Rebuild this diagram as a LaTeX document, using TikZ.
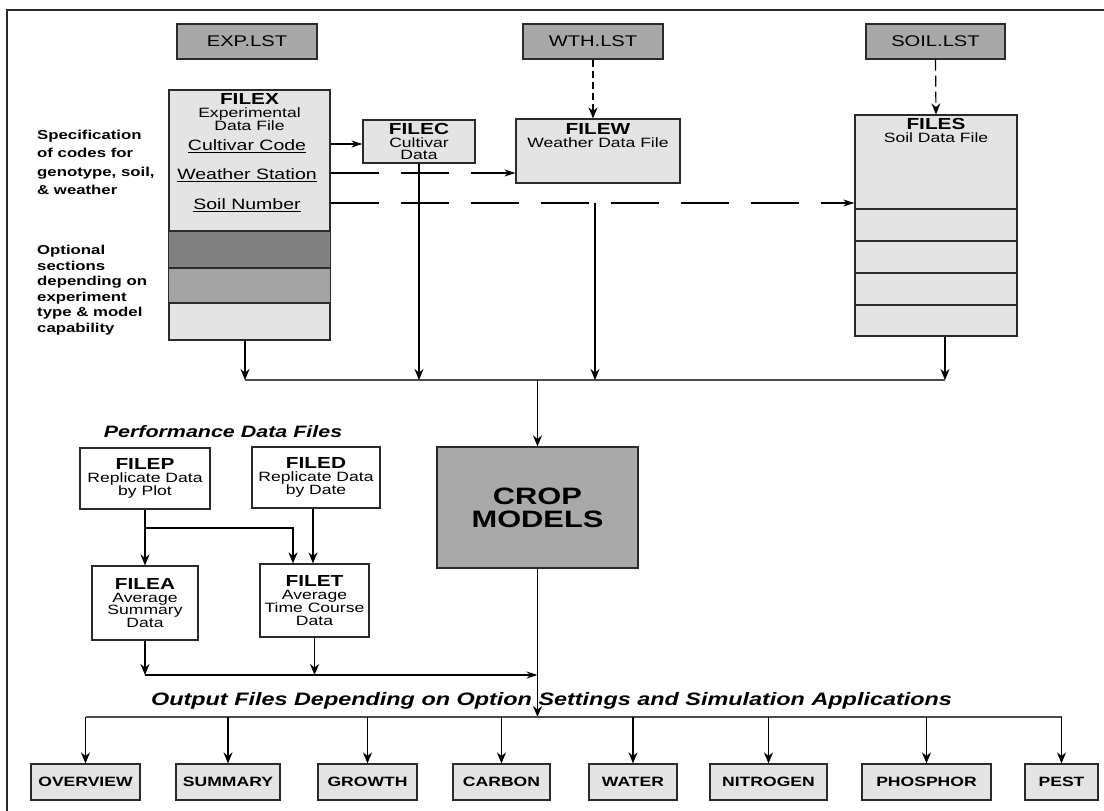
\documentclass[tikz,border=0pt]{standalone}
\usepackage{fontspec}
\setmainfont{Liberation Sans}[FakeStretch=1.3]
\usetikzlibrary{arrows.meta,positioning}

\definecolor{lstgray}{HTML}{A8A8A8}
\definecolor{filegray}{HTML}{E4E4E4}
\definecolor{darkband}{HTML}{808080}
\definecolor{midband}{HTML}{A3A3A3}
\definecolor{cropgray}{HTML}{A9A9A9}
\definecolor{edgegray}{HTML}{2A2A2A}
\definecolor{busgray}{HTML}{4A4A4A}

\newcommand{\filetitle}[1]{{\fontsize{16}{12.5}\selectfont\bfseries #1}}

\tikzset{
  filebox/.style={draw=edgegray,line width=1.2pt,fill=filegray,inner sep=0pt,align=center},
  lstbox/.style={filebox,fill=lstgray,minimum width=140pt,minimum height=35pt,font=\fontsize{15.5}{18}\selectfont},
  perfbox/.style={filebox,fill=white,font=\fontsize{13.5}{12.5}\selectfont},
  outbox/.style={filebox,minimum height=36pt,font=\bfseries\fontsize{13.5}{15}\selectfont},
  subtext/.style={anchor=north,align=center,font=\fontsize{13.5}{12.5}\selectfont},
  itemtext/.style={inner sep=0pt,font=\fontsize{15}{17}\selectfont},
  sidetext/.style={align=left,inner sep=0pt,anchor=north west,font=\bfseries\fontsize{12.9}{18.3}\selectfont},
  flow/.style={-{Stealth[length=11pt,width=9pt]},line width=1.6pt},
  thinflow/.style={-{Stealth[length=11pt,width=7pt]},line width=1.1pt},
  bus/.style={line width=1.1pt,draw=busgray}
}

\begin{document}
\begin{tikzpicture}[x=1pt,y=-1pt]
  \useasboundingbox (0,0) rectangle (1104,811);
  % frame
  \draw[line width=2.5pt,edgegray] (7,811) -- (7,10) -- (1104,10);

  % list files
  \node[lstbox] (explst) at (247,41.5) {EXP.LST};
  \node[lstbox] (wthlst) at (593,41.5) {WTH.LST};
  \node[lstbox,minimum width=139pt] (soillst) at (935.5,41.5) {SOIL.LST};

  % FILEX
  \node[filebox,minimum width=161pt,minimum height=250pt] (filex) at (249.5,215) {};
  \fill[darkband] (filex.west |- 0,231) rectangle (filex.east |- 0,268);
  \fill[midband] (filex.west |- 0,268) rectangle (filex.east |- 0,303);
  \draw[edgegray,line width=1.2pt] (filex.west |- 0,231) -- (filex.east |- 0,231)
    (filex.west |- 0,268) -- (filex.east |- 0,268)
    (filex.west |- 0,303) -- (filex.east |- 0,303)
    (filex.north west) rectangle (filex.south east);
  \node[subtext,inner sep=4pt] (filextxt) at (filex.north) {\filetitle{FILEX}\\Experimental\\Data File};
  \node[itemtext] (cultivar) at (247,146) {\underline{Cultivar Code}};
  \node[itemtext] (weather) at (247,175) {\underline{Weather Station}};
  \node[itemtext] (soilno) at (247,205) {\underline{Soil Number}};

  \node[sidetext] (spec) at (37,130) {Specification\\of codes for\\genotype, soil,\\\& weather};
  \node[sidetext,font=\bfseries\fontsize{12.9}{15.6}\selectfont] (optional) at (37,245)
    {Optional\\sections\\depending on\\experiment\\type \& model\\capability};

  % FILEC, FILEW, FILES
  \node[filebox,minimum width=112pt,minimum height=43pt,font=\fontsize{13.5}{12.5}\selectfont] (filec) at (419,141.5)
    {\filetitle{FILEC}\\Cultivar\\Data};
  \node[filebox,minimum width=164pt,minimum height=64pt] (filew) at (598,151) {};
  \node[subtext,inner sep=5pt] (filewtxt) at (filew.north) {\filetitle{FILEW}\\Weather Data File};
  \node[filebox,minimum width=162pt,minimum height=221pt] (files) at (936,225.5) {};
  \draw[edgegray,line width=1.2pt] (files.west |- 0,209) -- (files.east |- 0,209)
    (files.west |- 0,241) -- (files.east |- 0,241)
    (files.west |- 0,273) -- (files.east |- 0,273)
    (files.west |- 0,305) -- (files.east |- 0,305);
  \node[subtext,inner sep=4pt] (filestxt) at (files.north) {\filetitle{FILES}\\Soil Data File};

  % codes to files
  \draw[thinflow] (filex.east |- 0,144) -- (filec.west |- 0,144);
  \draw[thinflow,dash pattern=on 48pt off 22pt] (filex.east |- 0,173) -- (filew.west |- 0,173);
  \draw[thinflow,dash pattern=on 48pt off 22pt] (filex.east |- 0,203) -- (files.west |- 0,203);
  \draw[flow,line width=2pt,dash pattern=on 7pt off 4pt] (wthlst.south) -- (wthlst.south |- filew.north);
  \draw[flow,line width=1.2pt,dash pattern=on 11pt off 5pt] (soillst.south) -- (files.north);

  % CROP MODELS
  \node[filebox,fill=cropgray,minimum width=201pt,minimum height=121pt,font=\bfseries\fontsize{23.7}{23}\selectfont]
    (crop) at (537.5,507.5) {CROP\\MODELS};

  % input bus
  \coordinate (busl) at (245,380);
  \coordinate (busr) at (945,380);
  \coordinate (wdrop) at (595,203);
  \draw[bus] (busl) -- (busr);
  \draw[flow] (busl |- filex.south) -- (busl);
  \draw[flow] (filec.south) -- (filec.south |- busl);
  \draw[flow] (wdrop) -- (wdrop |- busl);
  \draw[flow] (busr |- files.south) -- (busr);
  \draw[flow] (crop.north |- busl) -- (crop.north);

  % performance data files
  \node[font=\bfseries\itshape\fontsize{16.5}{18}\selectfont] (perftitle) at (223,432) {Performance Data Files};
  \node[perfbox,minimum width=130pt,minimum height=61pt] (filep) at (145,478.5) {\filetitle{FILEP}\\Replicate Data\\by Plot};
  \node[perfbox,minimum width=128pt,minimum height=61pt] (filed) at (316,477.5) {\filetitle{FILED}\\Replicate Data\\by Date};
  \node[perfbox,minimum width=106pt,minimum height=74pt] (filea) at (145,603) {\filetitle{FILEA}\\Average\\Summary\\Data};
  \node[perfbox,minimum width=109pt,minimum height=73pt] (filet) at (314.5,600.5) {\filetitle{FILET}\\Average\\Time Course\\Data};

  \coordinate (pbranch) at (145,528);
  \coordinate (perfbus) at (145,675);
  \draw[flow] (filep.south) -- (filea.north);
  \draw[flow] (pbranch) -| ([xshift=-21.5pt]filet.north);
  \draw[flow] ([xshift=-3pt]filed.south) -- ([xshift=-3pt]filed.south |- filet.north);
  \draw[flow] (filea.south) -- (perfbus);
  \draw[flow] (filet.south) -- (filet.south |- perfbus);
  \draw[thinflow] (perfbus) -- (crop.south |- perfbus);

  % output files
  \node[font=\bfseries\itshape\fontsize{18}{20}\selectfont] (outtitle) at (551.5,701)
    {Output Files Depending on Option Settings and Simulation Applications};
  \node[outbox,minimum width=109pt] (overview) at (85.5,782) {OVERVIEW};
  \node[outbox,minimum width=104pt] (summary) at (228,782) {SUMMARY};
  \node[outbox,minimum width=99pt] (growth) at (367.5,782) {GROWTH};
  \node[outbox,minimum width=97pt] (carbon) at (501.5,782) {CARBON};
  \node[outbox,minimum width=88pt] (water) at (633,782) {WATER};
  \node[outbox,minimum width=117pt] (nitrogen) at (768.5,782) {NITROGEN};
  \node[outbox,minimum width=129pt] (phosphor) at (926.5,782) {PHOSPHOR};
  \node[outbox,minimum width=73pt] (pest) at (1061.5,782) {PEST};

  \coordinate (outbus) at (538,717);
  \draw[flow] (crop.south) -- (crop.south |- outbus);
  \draw[bus] (overview.north |- outbus) -- (pest.north |- outbus);
  \draw[flow] (overview.north |- outbus) -- (overview.north);
  \draw[flow] (summary.north |- outbus) -- (summary.north);
  \draw[flow] (growth.north |- outbus) -- (growth.north);
  \draw[flow] (carbon.north |- outbus) -- (carbon.north);
  \draw[flow] (water.north |- outbus) -- (water.north);
  \draw[flow] (nitrogen.north |- outbus) -- (nitrogen.north);
  \draw[flow] (phosphor.north |- outbus) -- (phosphor.north);
  \draw[flow] (pest.north |- outbus) -- (pest.north);
\end{tikzpicture}
\end{document}
